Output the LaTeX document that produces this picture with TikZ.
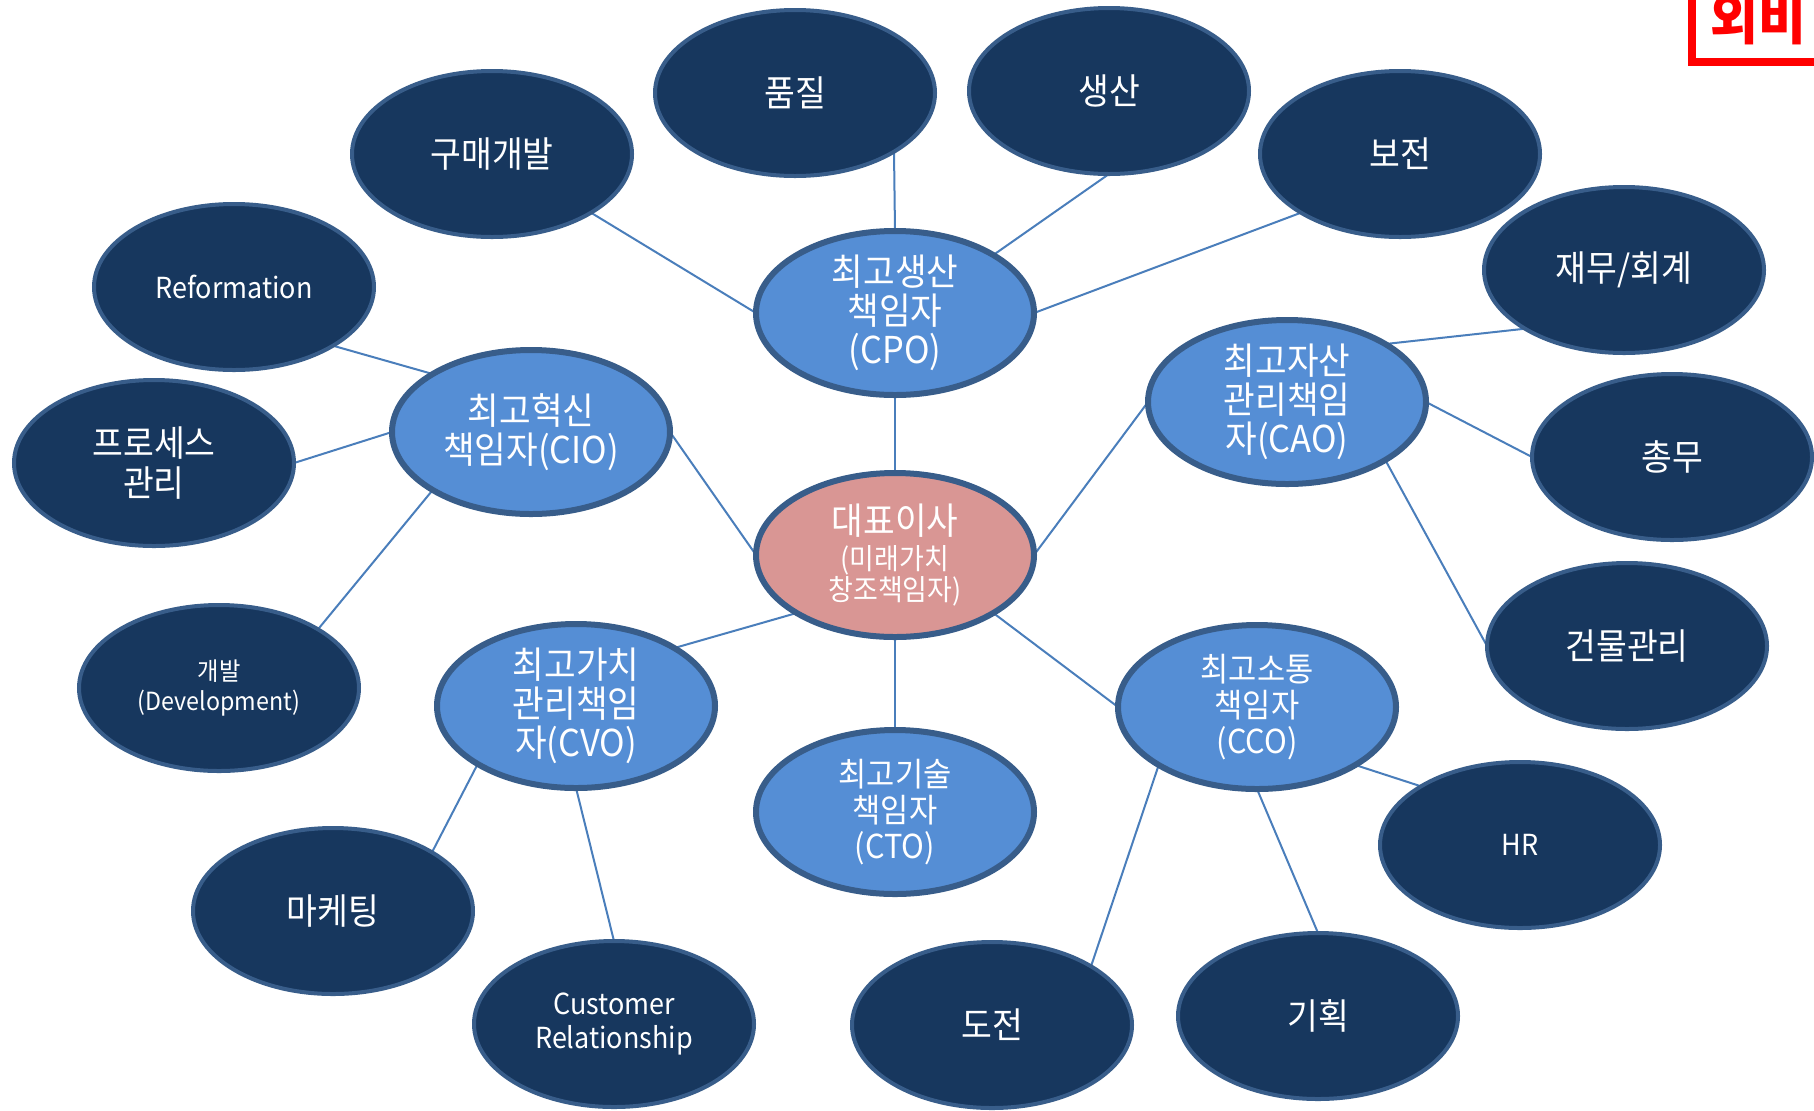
\documentclass[tikz,border=0pt]{standalone}
\usepackage{fontspec}
\setmainfont[FakeStretch=0.93]{Noto Sans CJK KR}
\usetikzlibrary{shapes.geometric,backgrounds}

\definecolor{navy}{HTML}{17375E}
\definecolor{rim}{HTML}{385D8A}
\definecolor{sky}{HTML}{558ED5}
\definecolor{rose}{HTML}{D99694}
\definecolor{wire}{HTML}{4A7EBB}

\begin{document}
\begin{tikzpicture}[x=0.5pt, y=-0.5pt,
    oval/.style={ellipse, draw=rim, inner sep=0pt, outer sep=0pt, text=white, align=center},
    dark/.style={oval, fill=navy, line width=2pt, minimum width=140pt, minimum height=83pt,
        font=\fontsize{18}{20}\selectfont},
    latin/.style={dark, font=\fontsize{14.5}{17}\selectfont},
    chief/.style={oval, fill=sky, line width=3pt, minimum width=139pt, minimum height=82pt,
        font=\fontsize{18.5}{19.5}\selectfont},
    chiefsmall/.style={chief, font=\fontsize{16.5}{18}\selectfont},
    ceo/.style={chief, fill=rose, font=\fontsize{14.5}{15.5}\selectfont},
    link/.style={wire, line width=1pt}]
    \clip (0,0) rectangle (1814,1110);

    % === CENTRE ===
    \node[ceo] (boss) at (895,555) {{\fontsize{18.5}{18.5}\selectfont 대표이사}\\[2pt](미래가치\\창조책임자)};

    % === CHIEF OFFICERS ===
    \node[chief] (cpo) at (895,313) {최고생산\\책임자\\(CPO)};
    \node[chief] (cio) at (531,432) {최고혁신\\책임자(CIO)};
    \node[chief] (cao) at (1287,402) {최고자산\\관리책임\\자(CAO)};
    \node[chief] (cvo) at (576,706) {최고가치\\관리책임\\자(CVO)};
    \node[chiefsmall] (cto) at (895,812) {최고기술\\책임자\\(CTO)};
    \node[chiefsmall] (cco) at (1257,707) {최고소통\\책임자\\(CCO)};

    % === UNITS ===
    \node[dark] (quality) at (795,93) {품질};
    \node[dark] (production) at (1109,91) {생산};
    \node[dark] (maintenance) at (1400,154) {보전};
    \node[dark] (purchase) at (492,154) {구매개발};
    \node[latin] (reform) at (234,287) {Reformation};
    \node[dark] (process) at (154,463) {프로세스\\관리};
    \node[dark, font=\fontsize{12.5}{15}\selectfont] (devel) at (219,688) {개발\\(Development)};
    \node[dark] (marketing) at (333,911) {마케팅};
    \node[latin] (crm) at (614,1024) {Customer\\Relationship};
    \node[dark] (challenge) at (992,1025) {도전};
    \node[dark] (planning) at (1318,1016) {기획};
    \node[latin] (hr) at (1520,845) {HR};
    \node[dark] (building) at (1627,646) {건물관리};
    \node[dark] (general) at (1672,457) {총무};
    \node[dark] (finance) at (1624,270) {재무/회계};

    % === Connectors (behind the ovals) ===
    \begin{scope}[on background layer]
        \draw[link] (quality.south east) -- (cpo.north);
        \draw[link] (production.south) -- (cpo.north east);
        \draw[link] (maintenance.south west) -- (cpo.east);
        \draw[link] (purchase.south east) -- (cpo.west);
        \draw[link] (cpo.south) -- (boss.north);
        \draw[link] (reform.south east) -- (cio.north west);
        \draw[link] (process.east) -- (cio.west);
        \draw[link] (devel.north east) -- (cio.south west);
        \draw[link] (cio.east) -- (boss.west);
        \draw[link] (cvo.north east) -- (boss.south west);
        \draw[link] (marketing.north east) -- (cvo.south west);
        \draw[link] (crm.north) -- (cvo.south);
        \draw[link] (boss.south) -- (cto.north);
        \draw[link] (boss.south east) -- (cco.west);
        \draw[link] (challenge.north east) -- (cco.south west);
        \draw[link] (planning.north) -- (cco.south);
        \draw[link] (cco.south east) -- (hr.north west);
        \draw[link] (boss.east) -- (cao.west);
        \draw[link] (cao.north east) -- (finance.south west);
        \draw[link] (cao.east) -- (general.west);
        \draw[link] (cao.south east) -- (building.west);
    \end{scope}

    % === Stamp, cut by the page edge ===
    \draw[red, line width=3.8pt] (1692,-20) rectangle (1840,62);
    \node[text=red, font=\fontsize{28}{28}\selectfont\bfseries, anchor=base] (stamp) at (1758,39) {외비};
\end{tikzpicture}
\end{document}
